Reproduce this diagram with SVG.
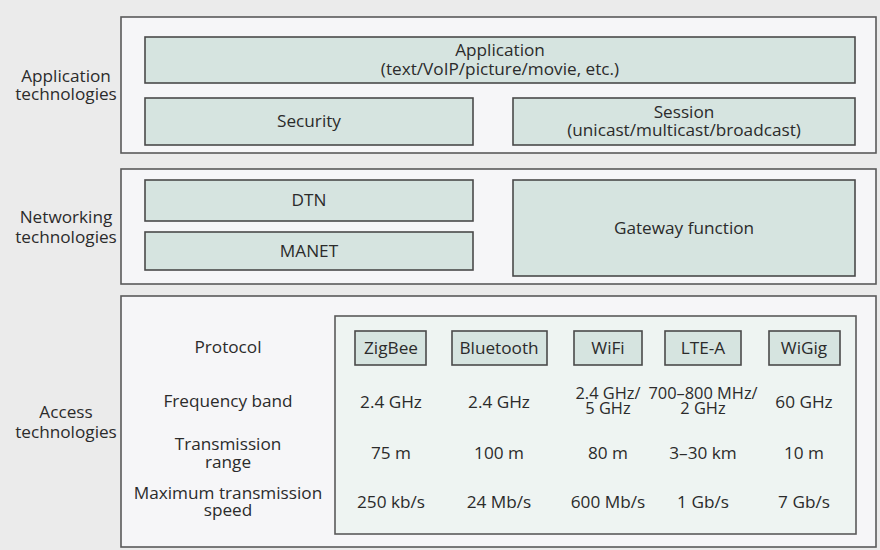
<svg xmlns="http://www.w3.org/2000/svg" width="880" height="550" viewBox="0 0 880 550">
  <style>
    text { font-family: "Open Sans", "Noto Sans", sans-serif; font-size: 17.2px; fill: #2b2b2b; text-anchor: middle; }
    .panel { fill: #f6f6f8; stroke: #5a5a5a; stroke-width: 1.6; }
    .box { fill: #d6e4e0; stroke: #4a4a4a; stroke-width: 1.6; }
    .table { fill: #eef4f2; stroke: #5a5a5a; stroke-width: 1.6; }
    .tight { font-size: 16.4px; }
  </style>
  <rect x="0" y="0" width="880" height="550" fill="#ebebeb"/>

  <!-- Application layer -->
  <g id="application-layer">
    <rect class="panel" x="121" y="17" width="755" height="136"/>
    <text x="66" y="82">Application</text>
    <text x="66" y="100">technologies</text>
  </g>
  <g id="application">
    <rect class="box" x="145" y="37" width="710" height="46"/>
    <text x="500" y="56">Application</text>
    <text x="500" y="75">(text/VoIP/picture/movie, etc.)</text>
  </g>
  <g id="security">
    <rect class="box" x="145" y="98" width="328" height="47"/>
    <text x="309" y="127">Security</text>
  </g>
  <g id="session">
    <rect class="box" x="513" y="98" width="342" height="47"/>
    <text x="684" y="118">Session</text>
    <text x="684" y="136">(unicast/multicast/broadcast)</text>
  </g>

  <!-- Networking layer -->
  <g id="networking-layer">
    <rect class="panel" x="121" y="169" width="755" height="115"/>
    <text x="66" y="223">Networking</text>
    <text x="66" y="243">technologies</text>
  </g>
  <g id="dtn">
    <rect class="box" x="145" y="180" width="328" height="41"/>
    <text x="309" y="206">DTN</text>
  </g>
  <g id="manet">
    <rect class="box" x="145" y="232" width="328" height="38"/>
    <text x="309" y="257">MANET</text>
  </g>
  <g id="gateway-function">
    <rect class="box" x="513" y="180" width="342" height="96"/>
    <text x="684" y="234">Gateway function</text>
  </g>

  <!-- Access layer -->
  <g id="access-layer">
    <rect class="panel" x="121" y="296" width="755" height="251"/>
    <text x="66" y="418">Access</text>
    <text x="66" y="438">technologies</text>
  </g>
  <g id="row-labels">
    <text x="228" y="353">Protocol</text>
    <text x="228" y="407">Frequency band</text>
    <text x="228" y="450">Transmission</text>
    <text x="228" y="468">range</text>
    <text x="228" y="499">Maximum transmission</text>
    <text x="228" y="516">speed</text>
  </g>
  <g id="access-table">
    <rect class="table" x="335" y="316" width="521" height="218"/>
  </g>
  <g id="zigbee">
    <rect class="box" x="355" y="331" width="71" height="34"/>
    <text x="391" y="354">ZigBee</text>
    <text x="391" y="408">2.4 GHz</text>
    <text x="391" y="459">75 m</text>
    <text x="391" y="508">250 kb/s</text>
  </g>
  <g id="bluetooth">
    <rect class="box" x="452" y="331" width="95" height="34"/>
    <text x="499" y="354">Bluetooth</text>
    <text x="499" y="408">2.4 GHz</text>
    <text x="499" y="459">100 m</text>
    <text x="499" y="508">24 Mb/s</text>
  </g>
  <g id="wifi">
    <rect class="box" x="574" y="331" width="68" height="34"/>
    <text x="608" y="354">WiFi</text>
    <text class="tight" x="608" y="399">2.4 GHz/</text>
    <text class="tight" x="608" y="414">5 GHz</text>
    <text x="608" y="459">80 m</text>
    <text x="608" y="508">600 Mb/s</text>
  </g>
  <g id="lte-a">
    <rect class="box" x="665" y="331" width="76" height="34"/>
    <text x="703" y="354">LTE-A</text>
    <text class="tight" x="703" y="399">700–800 MHz/</text>
    <text class="tight" x="703" y="414">2 GHz</text>
    <text x="703" y="459">3–30 km</text>
    <text x="703" y="508">1 Gb/s</text>
  </g>
  <g id="wigig">
    <rect class="box" x="769" y="331" width="71" height="34"/>
    <text x="804" y="354">WiGig</text>
    <text x="804" y="408">60 GHz</text>
    <text x="804" y="459">10 m</text>
    <text x="804" y="508">7 Gb/s</text>
  </g>
  <g id="connectors"/>
</svg>
